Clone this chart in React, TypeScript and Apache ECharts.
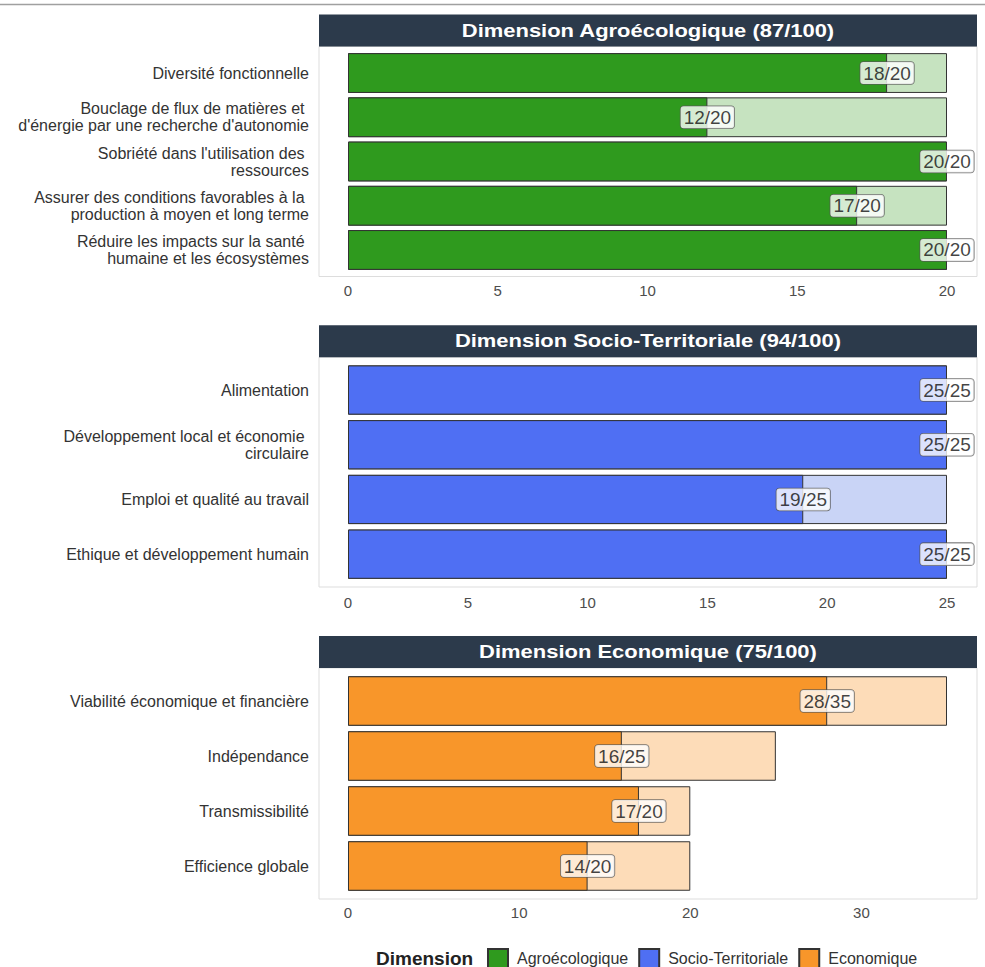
import React, { useEffect, useRef } from "react";
import * as echarts from "echarts";

const agroCats = [
  "Diversité fonctionnelle",
  "Bouclage de flux de matières et \nd'énergie par une recherche d'autonomie",
  "Sobriété dans l'utilisation des \nressources",
  "Assurer des conditions favorables à la \nproduction à moyen et long terme",
  "Réduire les impacts sur la santé \nhumaine et les écosystèmes",
];
const agroScores = [18, 12, 20, 17, 20];
const agroMax = [20, 20, 20, 20, 20];

const socioCats = [
  "Alimentation",
  "Développement local et économie \ncirculaire",
  "Emploi et qualité au travail",
  "Ethique et développement humain",
];
const socioScores = [25, 25, 19, 25];
const socioMax = [25, 25, 25, 25];

const ecoCats = [
  "Viabilité économique et financière",
  "Indépendance",
  "Transmissibilité",
  "Efficience globale",
];
const ecoScores = [28, 16, 17, 14];
const ecoMax = [35, 25, 20, 20];

const dimNames = ["Agroécologique", "Socio-Territoriale", "Economique"];
const dimTotals = [87, 94, 75];
const axisMax = [20, 25, 35];
const axisInterval = [5, 5, 10];

const darkColors = ["#2f9a1e", "#4f6ff3", "#f8962a"];
const lightColors = ["#c6e3c0", "#c9d4f6", "#fddcb8"];

const FONT = "Liberation Sans, Arial, Helvetica, sans-serif";

// layout (pixels)
const panels = [
  { top: 46.5, bottom: 276.5, n: 5, labelMargin: 11 },
  { top: 357.2, bottom: 587, n: 4, labelMargin: 13 },
  { top: 668, bottom: 899, n: 4, labelMargin: 11 },
];
const PANEL_L = 319;
const PANEL_R = 977;
const X0 = 348;
const X1 = 947;

export default function App() {
  const ref = useRef<HTMLDivElement>(null);
  useEffect(() => {
    if (!ref.current) return;
    const chart = echarts.init(ref.current, undefined, { renderer: "svg" });
    const cats = [agroCats, socioCats, ecoCats];
    const scores = [agroScores, socioScores, ecoScores];
    const maxes = [agroMax, socioMax, ecoMax];

    const grids: any[] = [];
    const xAxes: any[] = [];
    const yAxes: any[] = [];
    const series: any[] = [];
    const graphics: any[] = [
      {
        type: "line",
        shape: { x1: 0, y1: 4.5, x2: 985, y2: 4.5 },
        style: { stroke: "#a0a0a0", lineWidth: 1.5 },
      },
    ];

    panels.forEach((p, i) => {
      const h = p.bottom - p.top;
      const unit = h / (p.n + 0.2);
      const gTop = p.top + 0.1 * unit;
      const gH = p.n * unit;
      grids.push({
        left: X0,
        width: X1 - X0,
        top: gTop,
        height: gH,
        containLabel: false,
      });
      xAxes.push({
        type: "value",
        gridIndex: i,
        min: 0,
        max: axisMax[i],
        interval: axisInterval[i],
        axisLine: { show: false },
        axisTick: { show: false },
        splitLine: { show: false },
        axisLabel: {
          margin: p.labelMargin,
          fontSize: 15,
          color: "#4d4d4d",
          fontFamily: FONT,
          formatter: (v: number) => (v % axisInterval[i] === 0 ? String(v) : ""),
        },
      });
      yAxes.push({
        type: "category",
        gridIndex: i,
        inverse: true,
        data: cats[i],
        axisLine: { show: false },
        axisTick: { show: false },
        splitLine: { show: false },
        axisLabel: {
          margin: 39,
          fontSize: 16,
          lineHeight: 17,
          color: "#333333",
          fontFamily: FONT,
          align: "right",
        },
      });
      const barW = 0.9 * unit;
      series.push({
        type: "bar",
        name: "max" + i,
        xAxisIndex: i,
        yAxisIndex: i,
        data: maxes[i],
        barWidth: barW,
        barGap: "-100%",
        itemStyle: { color: lightColors[i], borderColor: "#333333", borderWidth: 1 },
        z: 2,
        silent: true,
      });
      series.push({
        type: "bar",
        name: dimNames[i],
        xAxisIndex: i,
        yAxisIndex: i,
        data: scores[i],
        barWidth: barW,
        barGap: "-100%",
        itemStyle: { color: darkColors[i], borderColor: "#333333", borderWidth: 1 },
        z: 3,
        silent: true,
      });
      series.push({
        type: "scatter",
        name: "lab" + i,
        xAxisIndex: i,
        yAxisIndex: i,
        data: scores[i].map((s, k) => [s, k]),
        symbolSize: 1,
        itemStyle: { color: "rgba(0,0,0,0)" },
        z: 5,
        silent: true,
        label: {
          show: true,
          position: "inside",
          formatter: (pr: any) => `${scores[i][pr.dataIndex]}/${maxes[i][pr.dataIndex]}`,
          fontSize: 19,
          fontFamily: FONT,
          color: "#111111",
          backgroundColor: "#ffffff",
          borderColor: "#555555",
          borderWidth: 0.8,
          borderRadius: 3,
          padding: [2, 3, 1, 3],
        },
      });
      // panel border
      graphics.push({
        type: "rect",
        shape: { x: PANEL_L, y: p.top, width: PANEL_R - PANEL_L, height: h },
        style: { fill: "none", stroke: "#dddddd", lineWidth: 1 },
        z: 0,
      });
      // title strip
      graphics.push({
        type: "rect",
        shape: { x: PANEL_L, y: p.top - 32, width: PANEL_R - PANEL_L, height: 32 },
        style: { fill: "#2c3a4b" },
      });
      graphics.push({
        type: "text",
        x: (PANEL_L + PANEL_R) / 2,
        y: p.top - 16,
        scaleX: 1.22,
        style: {
          text: `Dimension ${dimNames[i]} (${dimTotals[i]}/100)`,
          fill: "#ffffff",
          font: `bold 18px ${FONT}`,
          align: "center",
          verticalAlign: "middle",
        },
      });
    });

    graphics.push({
      type: "text",
      x: 376,
      y: 958,
      style: {
        text: "Dimension",
        fill: "#222222",
        font: `bold 19px ${FONT}`,
        align: "left",
        verticalAlign: "middle",
      },
    });

    chart.setOption({
      animation: false,
      grid: grids,
      xAxis: xAxes,
      yAxis: yAxes,
      series,
      graphic: graphics,
      legend: {
        data: dimNames,
        left: 487,
        top: 948,
        padding: 0,
        icon: "rect",
        itemWidth: 20,
        itemHeight: 19,
        itemGap: 10,
        selectedMode: false,
        textStyle: { fontSize: 16, color: "#333333", fontFamily: FONT, padding: [0, 0, 0, 4] },
      },
    });
    return () => chart.dispose();
  }, []);
  return (
    <div
      ref={ref}
      style={{ position: "absolute", left: 0, top: 0, width: 985, height: 967, background: "#fff" }}
    />
  );
}
